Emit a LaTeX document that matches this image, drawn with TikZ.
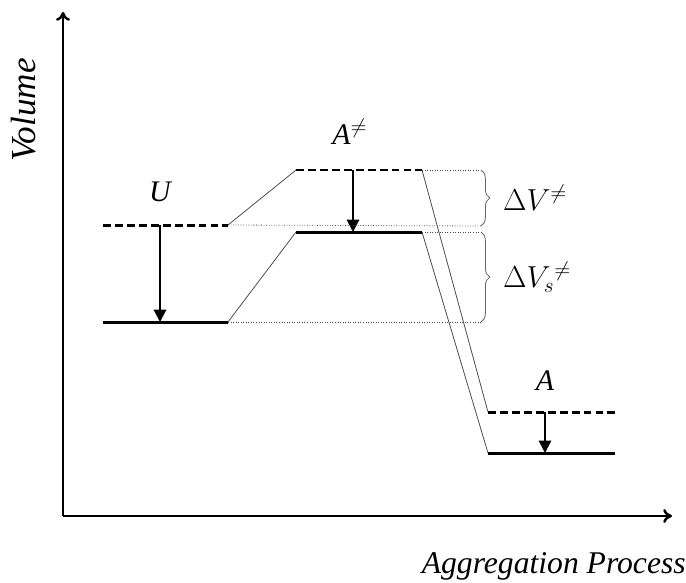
\documentclass[tikz,border=0pt]{standalone}
\usepackage{fontspec}
\setmainfont{Liberation Serif}
\usetikzlibrary{arrows.meta,decorations.pathreplacing}
\tikzset{
    level/.style={line width=1.7pt},
    trans/.style={line width=1.7pt, dash pattern=on 4.5pt off 2.3pt},
    drop/.style={line width=1.1pt, -{Triangle[length=7pt, width=7pt]}},
    link/.style={line width=0.45pt, black!70},
    guide/.style={line width=0.45pt, black!70, densely dotted},
    gap/.style={decorate, decoration={brace, amplitude=5pt}, line width=0.45pt, black!60},
    lab/.style={font=\fontsize{17}{19}\selectfont\itshape},
    axlab/.style={font=\fontsize{18}{20}\selectfont\itshape},
    gaplab/.style={text=black, font=\fontsize{17}{19}\selectfont}
}
\begin{document}
\begin{tikzpicture}[x=0.02cm, y=-0.02cm]
        \useasboundingbox (0,0) rectangle (686,582);
        % axes
        \coordinate (o) at (63,516);
        \coordinate (ytop) at (63,12);
        \coordinate (xend) at (672,516);
        \draw[line width=1.4pt, -{To[length=5pt, width=8pt]}] (o) -- (ytop);
        \draw[line width=1.4pt, -{To[length=5pt, width=8pt]}] (o) -- (xend);
        \node[axlab, rotate=90, font=\fontsize{20}{22}\selectfont\itshape] (vol) at (24,110) {Volume};
        \node[axlab, anchor=east, inner sep=0pt] (proc) at (686,566) {Aggregation Process};

        % U levels
        \coordinate (u1) at (103,225); \coordinate (u2) at (228,225);
        \coordinate (us1) at (103,322); \coordinate (us2) at (228,322);
        \draw[trans] (u1) -- (u2);
        \draw[level] (us1) -- (us2);
        \node[lab] (U) at (160,192) {U};
        \draw[drop] (160,225) -- (160,322);

        % A-neq levels
        \coordinate (t1) at (296,170); \coordinate (t2) at (422,170);
        \coordinate (ts1) at (296,232); \coordinate (ts2) at (422,232);
        \draw[trans] (t1) -- (t2);
        \draw[level] (ts1) -- (ts2);
        \node[lab] (Aneq) at (350,132) {A$^{\neq}$};
        \draw[drop] (353,170) -- (353,232);

        % A levels
        \coordinate (a1) at (488,412); \coordinate (a2) at (615,412);
        \coordinate (as1) at (488,453); \coordinate (as2) at (615,453);
        \draw[trans] (a1) -- (a2);
        \draw[level] (as1) -- (as2);
        \node[lab] (A) at (545,381) {A};
        \draw[drop] (545,412) -- (545,453);

        % connectors
        \draw[link] (u2) -- (t1);
        \draw[link] (us2) -- (ts1);
        \draw[link] (t2) -- (a1);
        \draw[link] (ts2) -- (as1);

        % guides
        \draw[guide] (t2) -- (481,170);
        \draw[guide] (u2) -- (481,226);
        \draw[guide] (ts2) -- (481,232);
        \draw[guide] (us2) -- (481,322);

        % braces
        \draw[gap] (481,170) -- (481,226) node[gaplab, midway, right=9pt] (dv) {$\Delta V^{\neq}$};
        \draw[gap] (481,232) -- (481,322) node[gaplab, midway, right=9pt] (dvs) {$\Delta V_s{}^{\neq}$};
    \end{tikzpicture}
\end{document}
